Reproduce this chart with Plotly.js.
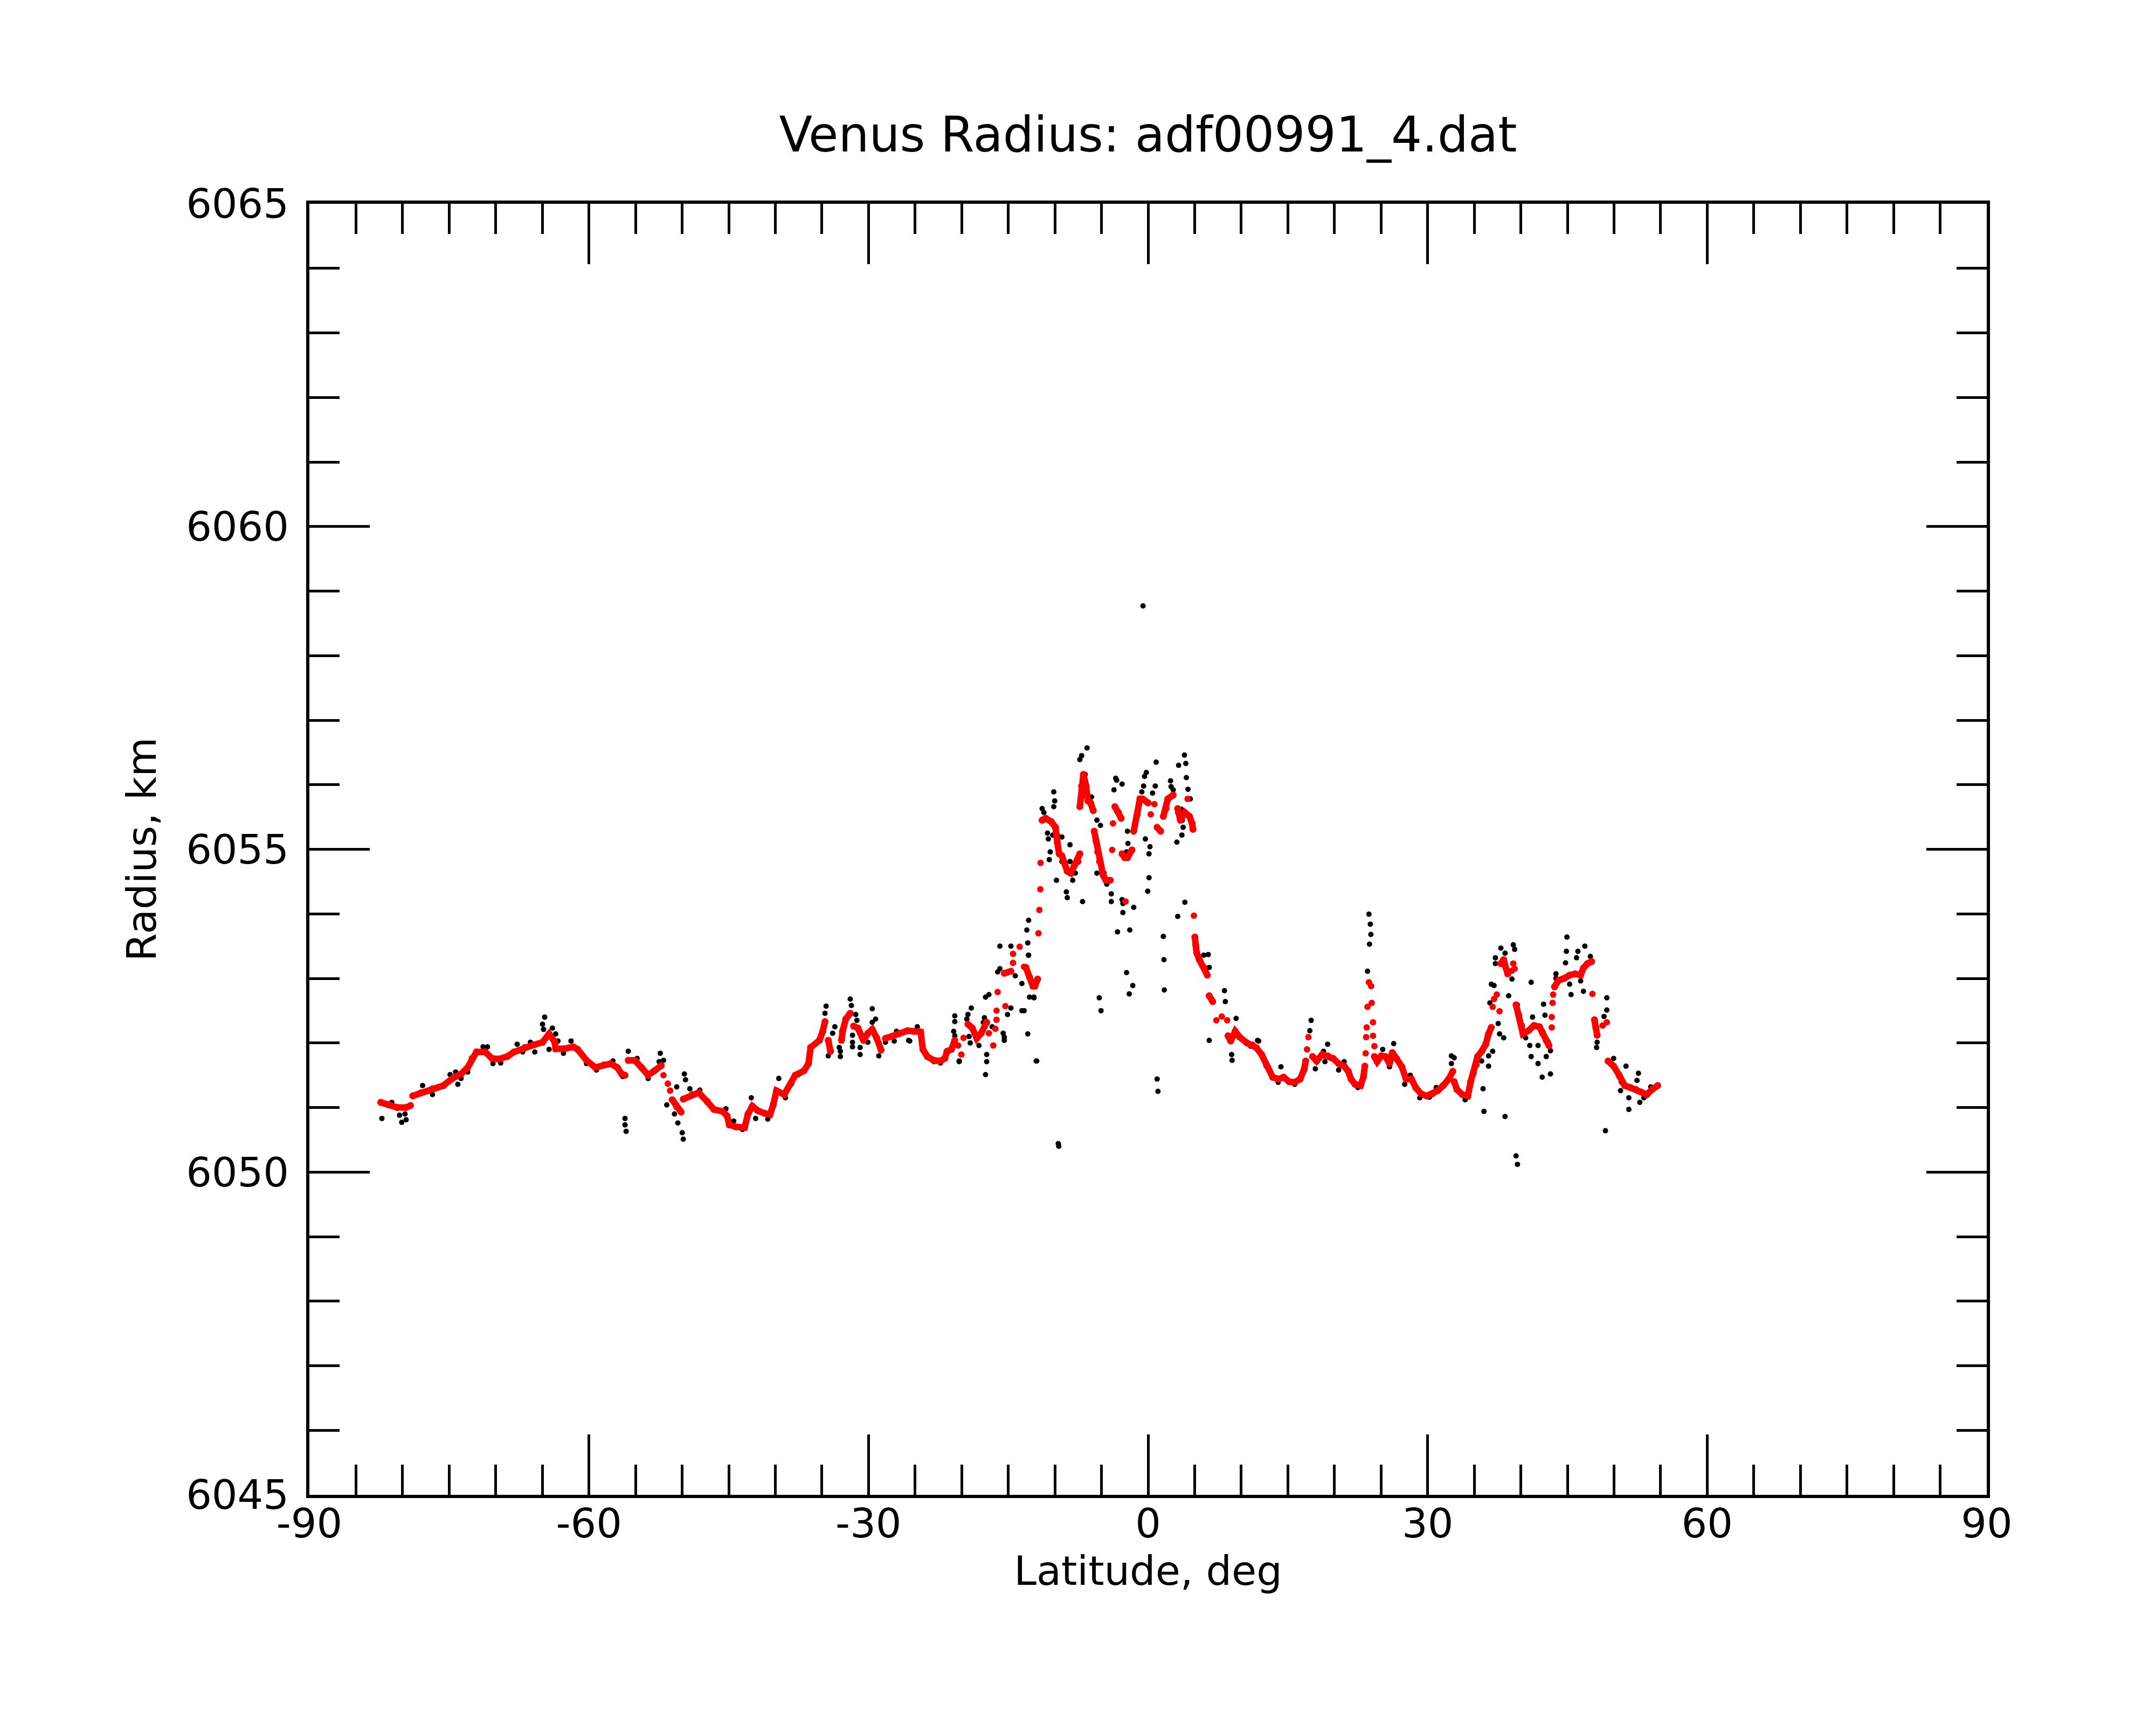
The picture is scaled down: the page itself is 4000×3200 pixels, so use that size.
<!DOCTYPE html>
<html>
<head>
<meta charset="utf-8">
<script src="https://cdn.plot.ly/plotly-3.0.1.min.js"></script>
<style>
  html, body { margin: 0; padding: 0; background: #fff; }
  #chart { width: 4000px; height: 3200px; }
</style>
</head>
<body>
<div id="chart"></div>
<script>
// axis ticks (hyphen minus, like the original)
var xTickVals = [-90, -60, -30, 0, 30, 60, 90];
var xTickText = ['-90', '-60', '-30', '0', '30', '60', '90'];
var yTickVals = [6045, 6050, 6055, 6060, 6065];
var yTickText = ['6045', '6050', '6055', '6060', '6065'];

// raw radius samples (black dots)
var blackLat = [
  -82.22, -81.16, -80.33, -80.09, -79.74, -79.62, -77.85, -76.79, -74.90, -74.31, -74.07, -73.72, -73.01,
  -71.36, -70.89, -70.30, -69.47, -67.70, -67.11, -66.28, -65.81, -64.98, -64.87, -64.75, -64.28, -63.92,
  -63.57, -63.33, -62.74, -61.92, -60.26, -59.20, -57.43, -56.37, -56.13, -56.13, -56.01, -55.78, -54.83,
  -53.65, -52.47, -52.35, -52.00, -51.65, -50.82, -50.58, -50.46, -49.99, -49.88, -49.76, -49.64, -49.17,
  -48.10, -45.30, -44.47, -43.53, -42.58, -42.11, -40.81, -39.63, -38.92, -37.51, -35.73, -34.67, -34.55,
  -34.32, -33.85, -33.61, -33.14, -33.02, -33.02, -31.96, -31.84, -31.72, -31.72, -31.72, -31.37, -31.25,
  -30.90, -30.90, -30.07, -29.60, -29.60, -29.24, -28.89, -28.18, -27.24, -26.99, -25.70, -25.58, -24.76,
  -22.99, -22.28, -20.86, -20.74, -20.74, -20.74, -20.27, -20.27, -19.45, -19.33, -19.21, -19.09, -18.97,
  -18.15, -17.68, -17.56, -17.44, -17.44, -17.32, -17.32, -17.08, -16.73, -16.14, -15.90, -15.90, -15.55,
  -15.43, -15.43, -15.08, -14.72, -14.72, -14.25, -13.54, -13.54, -13.30, -13.01, -12.91, -12.91, -12.84,
  -12.82, -12.82, -12.72, -12.25, -12.24, -12.01, -11.95, -11.37, -11.18, -10.79, -10.70, -10.60, -10.50,
  -10.22, -10.12, -10.12, -10.02, -9.83, -9.73, -9.64, -9.58, -9.25, -9.25, -8.77, -8.67, -8.38, -8.38,
  -8.09, -7.81, -7.32, -7.13, -7.03, -6.75, -6.55, -6.07, -5.49, -5.49, -5.24, -5.11, -5.05, -4.72, -4.43,
  -3.95, -3.95, -3.66, -3.47, -3.37, -3.28, -2.79, -2.79, -2.70, -2.70, -2.31, -2.31, -2.21, -2.16, -2.02,
  -1.96, -1.64, -1.54, -0.67, -0.54, -0.48, -0.38, -0.29, -0.19, -0.04, 0.10, 0.10, 0.20, 0.48, 0.77, 0.87,
  0.97, 1.06, 1.64, 1.70, 1.74, 2.41, 2.47, 2.70, 3.09, 3.18, 3.18, 3.28, 3.57, 3.63, 3.67, 3.76, 3.90, 3.95,
  4.05, 4.11, 4.28, 4.53, 5.98, 6.46, 6.56, 6.56, 8.20, 8.29, 8.97, 9.02, 9.45, 11.01, 11.75, 11.86, 13.96,
  14.26, 15.73, 17.36, 17.50, 17.95, 18.83, 18.98, 19.27, 20.45, 21.04, 22.52, 23.55, 23.70, 23.76, 23.85,
  23.91, 25.03, 25.18, 25.91, 25.91, 26.36, 27.54, 28.13, 29.16, 30.19, 30.93, 32.55, 32.55, 32.85, 34.03,
  35.80, 35.95, 36.04, 36.54, 36.54, 36.68, 36.83, 36.98, 37.13, 37.27, 37.27, 37.57, 37.72, 37.86, 38.16,
  38.31, 38.31, 38.69, 39.05, 39.19, 39.34, 39.49, 39.63, 39.64, 40.52, 40.96, 41.11, 41.11, 41.26, 41.85,
  41.85, 42.29, 42.29, 42.44, 42.59, 42.73, 43.18, 43.18, 43.77, 43.77, 44.80, 44.89, 44.95, 45.24, 45.39,
  45.98, 46.13, 46.42, 46.72, 46.87, 47.46, 48.13, 48.19, 48.93, 49.08, 49.23, 49.23, 49.96, 50.56, 50.70,
  51.29, 51.59, 51.59, 52.47, 52.62, 52.77, 53.21, 53.95
];
var blackRad = [
  6050.83, 6051.08, 6050.88, 6050.77, 6050.90, 6050.81, 6051.34, 6051.20, 6051.51, 6051.55, 6051.36, 6051.45, 6051.55,
  6051.94, 6051.94, 6051.68, 6051.69, 6051.98, 6051.86, 6052.01, 6051.86, 6052.29, 6052.21, 6052.40, 6051.90, 6052.23,
  6052.14, 6052.03, 6051.84, 6052.03, 6051.68, 6051.58, 6051.72, 6051.48, 6050.83, 6050.73, 6050.63, 6051.87, 6051.76,
  6051.45, 6051.71, 6051.84, 6051.73, 6051.04, 6050.90, 6051.32, 6050.76, 6050.61, 6050.51, 6051.52, 6051.43, 6051.29,
  6051.27, 6050.98, 6050.79, 6050.66, 6051.15, 6050.83, 6050.82, 6051.45, 6051.15, 6051.51, 6051.98, 6052.46, 6052.57,
  6051.80, 6052.15, 6052.25, 6051.93, 6051.87, 6051.79, 6052.68, 6052.58, 6052.12, 6052.01, 6051.94, 6052.44, 6052.35,
  6051.93, 6051.82, 6052.01, 6052.53, 6052.32, 6052.37, 6051.80, 6052.01, 6052.03, 6052.18, 6052.04, 6052.03, 6052.25,
  6051.71, 6051.69, 6052.18, 6052.42, 6052.33, 6052.11, 6051.71, 6051.72, 6052.37, 6052.44, 6052.10, 6052.00, 6052.54,
  6051.96, 6052.32, 6052.39, 6052.71, 6051.51, 6051.82, 6051.71, 6052.75, 6052.25, 6053.10, 6053.15, 6053.50, 6052.15,
  6052.09, 6052.04, 6052.44, 6052.54, 6053.50, 6053.04, 6052.50, 6052.92, 6052.50, 6053.75, 6053.55, 6052.14, 6053.36,
  6053.90, 6053.36, 6052.71, 6052.71, 6052.70, 6051.72, 6051.72, 6055.63, 6055.57, 6055.25, 6055.16, 6054.84, 6054.96,
  6055.22, 6055.89, 6055.66, 6055.75, 6054.52, 6055.22, 6050.44, 6050.40, 6055.19, 6054.81, 6054.34, 6054.25, 6055.07, 6054.81,
  6054.52, 6054.63, 6056.39, 6056.45, 6054.19, 6056.16, 6056.57, 6055.81, 6055.45, 6054.63, 6052.70, 6055.37, 6052.50, 6054.63, 6054.46,
  6054.31, 6054.19, 6055.92, 6056.10, 6056.07, 6053.72, 6056.01, 6054.22, 6054.16, 6054.02, 6054.96, 6053.09, 6055.28, 6055.09, 6052.76,
  6053.75, 6052.89, 6054.10, 6055.89, 6058.77, 6055.98, 6056.13, 6055.16, 6056.19, 6054.35, 6054.56, 6054.93, 6055.04, 6055.87, 6055.98, 6056.35,
  6051.44, 6051.25, 6053.65, 6053.29, 6052.82, 6056.06, 6055.97, 6055.92, 6055.11, 6053.96, 6055.57, 6056.30, 6055.62, 6055.22, 6055.45, 6055.34, 6056.46, 6054.18,
  6056.33, 6056.11, 6055.93, 6055.78, 6053.36, 6053.37, 6053.17, 6052.04, 6052.81, 6052.64, 6051.82, 6051.73, 6052.38, 6051.95, 6052.04, 6052.03, 6051.39,
  6051.63, 6051.36, 6052.19, 6052.35, 6051.60, 6051.87, 6051.71, 6051.98, 6051.58, 6051.71, 6051.31, 6053.11, 6053.995, 6053.53, 6053.84,
  6053.68, 6051.79, 6051.90, 6051.64, 6051.63, 6051.99, 6051.36, 6051.50, 6051.15, 6051.16, 6051.31, 6051.80, 6051.68, 6051.77, 6051.12,
  6051.72, 6051.29, 6050.94, 6051.64, 6051.80, 6052.62, 6052.91, 6051.87, 6052.89, 6053.32, 6053.23, 6052.30, 6052.14, 6053.47, 6052.08,
  6053.39, 6050.86, 6052.73, 6052.99, 6053.52, 6053.45, 6050.25, 6052.59, 6050.12, 6052.08, 6051.96, 6051.79, 6052.94, 6052.40, 6051.96,
  6051.68, 6051.47, 6052.14, 6052.60, 6052.43, 6051.79, 6051.52, 6051.88, 6053.07, 6053.00, 6053.24, 6053.42, 6053.64, 6052.91, 6052.75,
  6053.32, 6053.42, 6052.96, 6052.80, 6053.50, 6053.34, 6051.93, 6052.01, 6052.41, 6050.64, 6052.70, 6052.51, 6051.76, 6051.47, 6051.26,
  6051.64, 6051.15, 6050.97, 6051.42, 6051.53, 6051.08, 6051.15, 6051.32
];

// smoothed radius (red), null = break in the chain
var redLat = [
  -82.34, -81.51, -80.56, -79.62, -79.15, null,
  -78.91, -77.97, -76.79, -75.61, -74.66, -73.72, -73.01, -72.54, -72.07, -71.12, -70.41, -69.71, -68.76, -68.05,
  -66.87, -65.93, -64.98, -64.28, -63.69, -63.57, -62.62, -61.68, -61.21, -60.26, -59.32, -58.37, -57.67, -56.96,
  -56.49, -56.13, null,
  -55.78, -55.07, -54.36, -53.65, -52.95, -52.24, null,
  -51.06, -50.58, -50.11, null,
  -49.88, -48.93, -48.22, -47.30, -46.59, -45.65, -45.18, -44.94, -44.23, -43.29, -42.93, -42.46, -41.87, -41.16,
  -40.57, -40.22, -39.87, -39.04, -38.33, -37.86, -36.91, -36.44, -36.21, -35.26, -34.91, -34.67, null,
  -34.32, -34.08, null,
  -32.90, -32.78, -32.43, -31.96, null,
  -31.60, -31.13, -30.54, -30.07, -29.60, -29.13, -28.65, null,
  -28.18, -27.47, -26.76, -25.82, -25.11, -24.40, -24.17, -23.69, -22.99, -22.28, -21.81, -21.57, -21.10, -20.74, null,
  -19.33, -18.86, -18.38, -17.91, -17.32, null,
  -15.43, -14.72, null,
  -13.11, -12.72, -12.36, -12.14, -11.85, null,
  -11.37, -10.99, -10.41, -9.93, -9.73, -9.54, -9.25, -9.06, -8.67, -8.29, -7.90, -7.52, -7.32, null,
  -7.32, -7.13, -6.94, -6.65, -6.46, -6.17, -5.88, null,
  -5.78, -5.59, -5.40, -5.20, -4.82, -4.53, -4.05, null,
  -3.56, -3.18, -2.89, null,
  -2.79, -2.50, -2.21, -1.73, null,
  -1.54, -1.15, -0.87, -0.58, 0.00, null,
  0.97, 1.35, null,
  1.64, 1.93, 2.12, 2.70, null,
  3.18, 3.47, 3.95, 4.44, 4.73, 4.82, null,
  5.02, 5.11, 5.21, 5.50, 5.98, 6.36, null,
  6.56, 6.94, null,
  8.58, 8.87, 9.35, 9.83, 10.61, 11.18, 11.60, 12.19, 12.73, 13.37, 13.96, 14.55, 15.14, 15.73, 16.32, 16.77, 16.91, null,
  17.65, 18.09, 18.68, 19.27, 19.86, 20.45, 21.04, 21.49, 21.78, 22.22, 22.81, 23.11, 23.26, null,
  24.29, 24.59, 25.03, 25.47, 25.91, 26.21, 26.65, 27.24, 27.68, 28.27, 28.72, 29.31, 29.90, 30.49, 31.08, 31.67,
  32.26, 32.70, null,
  32.85, 33.14, 33.73, 34.32, 34.62, 34.91, 35.21, 35.36, 35.80, 36.24, 36.54, 36.83, null,
  37.86, 38.16, 38.31, 38.60, null,
  39.49, 39.78, 40.08, 40.23, 40.82, 41.41, 42.00, 42.29, 42.73, 42.88, 43.03, null,
  43.62, 44.06, 44.65, 45.24, 45.83, 46.42, 46.72, 47.16, 47.60, null,
  47.90, 48.05, 48.19, null,
  49.37, 49.96, 50.56, 50.85, 51.15, 51.74, 52.33, 52.92, 53.51, 54.10, 54.69
];
var redRad = [
  6051.08, 6051.04, 6051.00, 6051.00, 6051.03, null,
  6051.18, 6051.23, 6051.29, 6051.34, 6051.45, 6051.52, 6051.62, 6051.76, 6051.86, 6051.86, 6051.76, 6051.75, 6051.79, 6051.86,
  6051.93, 6051.97, 6052.01, 6052.14, 6052.02, 6051.91, 6051.91, 6051.94, 6051.90, 6051.73, 6051.62, 6051.66, 6051.68, 6051.62,
  6051.52, 6051.50, null,
  6051.73, 6051.73, 6051.62, 6051.50, 6051.57, 6051.65, null,
  6051.12, 6051.01, 6050.93, null,
  6051.13, 6051.20, 6051.23, 6051.09, 6050.97, 6050.94, 6050.87, 6050.73, 6050.70, 6050.69, 6050.90, 6051.02, 6050.95, 6050.91,
  6050.89, 6051.04, 6051.26, 6051.20, 6051.37, 6051.50, 6051.57, 6051.68, 6051.93, 6052.04, 6052.18, 6052.33, null,
  6052.04, 6051.87, null,
  6052.04, 6052.18, 6052.37, 6052.46, null,
  6052.26, 6052.23, 6052.04, 6052.15, 6052.21, 6052.08, 6051.89, null,
  6052.07, 6052.10, 6052.14, 6052.19, 6052.18, 6052.17, 6051.90, 6051.79, 6051.73, 6051.72, 6051.76, 6051.87, 6051.90, 6052.04, null,
  6052.29, 6052.23, 6052.07, 6052.15, 6052.32, null,
  6053.08, 6053.11, null,
  6053.17, 6053.02, 6052.88, 6052.88, 6052.99, null,
  6055.45, 6055.48, 6055.43, 6055.34, 6055.10, 6054.93, 6054.90, 6054.81, 6054.66, 6054.63, 6054.75, 6054.81, 6054.93, null,
  6055.66, 6055.98, 6056.16, 6055.98, 6055.75, 6055.72, 6055.60, null,
  6055.28, 6055.13, 6054.96, 6054.81, 6054.60, 6054.52, 6054.52, null,
  6055.66, 6055.57, 6055.48, null,
  6054.93, 6054.87, 6054.87, 6054.99, null,
  6055.28, 6055.54, 6055.78, 6055.78, 6055.72, null,
  6055.34, 6055.28, null,
  6055.51, 6055.63, 6055.78, 6055.84, null,
  6055.63, 6055.45, 6055.57, 6055.51, 6055.40, 6055.31, null,
  6053.64, 6053.52, 6053.40, 6053.29, 6053.17, 6053.05, null,
  6052.73, 6052.64, null,
  6052.11, 6052.03, 6052.18, 6052.09, 6052.00, 6051.97, 6051.93, 6051.82, 6051.65, 6051.47, 6051.44, 6051.47, 6051.40, 6051.39, 6051.44, 6051.60, 6051.72, null,
  6051.79, 6051.72, 6051.82, 6051.80, 6051.76, 6051.68, 6051.64, 6051.56, 6051.44, 6051.36, 6051.34, 6051.47, 6051.64, null,
  6051.79, 6051.71, 6051.80, 6051.79, 6051.68, 6051.85, 6051.76, 6051.63, 6051.44, 6051.44, 6051.31, 6051.21, 6051.18, 6051.21, 6051.26, 6051.34,
  6051.44, 6051.56, null,
  6051.40, 6051.28, 6051.20, 6051.18, 6051.40, 6051.53, 6051.66, 6051.79, 6051.87, 6051.98, 6052.14, 6052.24, null,
  6053.23, 6053.29, 6053.20, 6053.07, null,
  6052.59, 6052.43, 6052.27, 6052.14, 6052.19, 6052.27, 6052.25, 6052.17, 6052.04, 6052.01, 6051.96, null,
  6052.87, 6052.97, 6053.00, 6053.05, 6053.07, 6053.05, 6053.16, 6053.23, 6053.26, null,
  6052.36, 6052.24, 6052.12, null,
  6051.72, 6051.64, 6051.50, 6051.40, 6051.34, 6051.31, 6051.28, 6051.24, 6051.20, 6051.28, 6051.34
];

// isolated smoothed points (red, not chained)
var redDotLat = [
  -52.00, -51.53, -51.29, -20.39, -20.04, -19.80, -17.08, -16.61, -16.38, -16.26, -16.26, -16.14, -15.31,
  -14.49, -14.49, -13.78, -13.31, -11.76, -11.66, -11.56, -11.53, -3.85, -3.76, -2.41, 0.29, 0.68, 4.24,
  4.92, 7.33, 7.91, 8.49, 17.06, 17.21, 23.35, 23.40, 23.46, 23.55, 23.70, 23.94, 24.00, 24.14, 24.14,
  24.29, 36.98, 37.13, 37.42, 37.72, 39.05, 39.19, 39.34, 43.32, 43.32, 43.41, 43.47, 47.69, 48.78, 49.23
];
var redDotRad = [
  6051.50, 6051.37, 6051.26, 6051.96, 6051.82, 6052.08, 6052.15, 6051.96, 6052.22, 6052.36, 6052.50, 6052.79, 6052.57,
  6053.24, 6053.38, 6053.49, 6053.18, 6053.70, 6054.06, 6054.38, 6054.79, 6054.99, 6055.40, 6054.19, 6055.54, 6055.70, 6055.78,
  6053.97, 6052.35, 6052.41, 6052.35, 6051.90, 6052.09, 6051.84, 6052.09, 6052.24, 6052.56, 6052.94, 6052.88, 6052.62, 6052.32, 6052.11,
  6051.95, 6052.56, 6052.68, 6052.75, 6052.49, 6053.12, 6053.23, 6053.15, 6052.24, 6052.40, 6052.62, 6052.75, 6052.76, 6052.27, 6052.32
];

var font = 'DejaVu Sans, sans-serif';

var data = [
  {
    type: 'scatter', mode: 'markers', x: blackLat, y: blackRad,
    marker: {color: '#000000', size: 10}
  },
  {
    type: 'scatter', mode: 'lines+markers', x: redLat, y: redRad, connectgaps: false,
    line: {color: '#ff0000', width: 12}, marker: {color: '#ff0000', size: 13}
  },
  {
    type: 'scatter', mode: 'markers', x: redDotLat, y: redDotRad,
    marker: {color: '#ff0000', size: 12}
  }
];

var layout = {
  width: 4000,
  height: 3200,
  showlegend: false,
  paper_bgcolor: '#ffffff',
  plot_bgcolor: '#ffffff',
  margin: {l: 574, r: 314, t: 378, b: 427},
  font: {family: font, color: '#000000'},
  title: {
    text: 'Venus Radius: adf00991_4.dat',
    font: {family: font, size: 90, color: '#000000'},
    x: 0.5, xref: 'paper', xanchor: 'center',
    y: 0.922, yref: 'container', yanchor: 'middle'
  },
  xaxis: {
    range: [-90, 90],
    tickmode: 'array', tickvals: xTickVals, ticktext: xTickText,
    ticks: 'inside', ticklen: 112, tickwidth: 5, tickcolor: '#000000',
    minor: {tickmode: 'linear', tick0: -90, dtick: 5, ticks: 'inside', ticklen: 56, tickwidth: 5, tickcolor: '#000000', showgrid: false},
    showline: true, linewidth: 6, linecolor: '#000000', mirror: 'ticks',
    showgrid: false, zeroline: false,
    tickfont: {family: font, size: 75, color: '#000000'},
    ticklabelstandoff: -17,
    title: {text: 'Latitude, deg', font: {family: font, size: 75, color: '#000000'}, standoff: 12}
  },
  yaxis: {
    range: [6045, 6065],
    tickmode: 'array', tickvals: yTickVals, ticktext: yTickText,
    ticks: 'inside', ticklen: 112, tickwidth: 5, tickcolor: '#000000',
    minor: {tickmode: 'linear', tick0: 6045, dtick: 1, ticks: 'inside', ticklen: 56, tickwidth: 5, tickcolor: '#000000', showgrid: false},
    showline: true, linewidth: 6, linecolor: '#000000', mirror: 'ticks',
    showgrid: false, zeroline: false,
    tickfont: {family: font, size: 75, color: '#000000'},
    ticklabelstandoff: 17,
    title: {text: 'Radius, km', font: {family: font, size: 75, color: '#000000'}, standoff: 33}
  }
};

Plotly.newPlot('chart', data, layout, {staticPlot: true});
</script>
</body>
</html>
